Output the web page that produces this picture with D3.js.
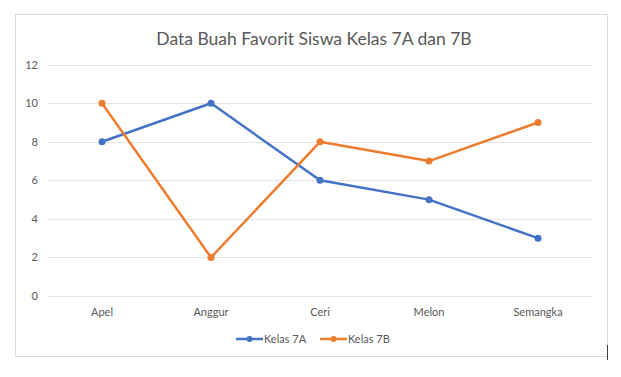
<!DOCTYPE html>
<html>
<head>
<meta charset="utf-8">
<script src="https://cdn.jsdelivr.net/npm/d3@7"></script>
<style>
  body { margin: 0; background: #fff; }
  text { font-family: Lato, "Open Sans", sans-serif; fill: #595959; }
</style>
</head>
<body>
<div id="chart"></div>
<script>
const categories = ["Apel", "Anggur", "Ceri", "Melon", "Semangka"];
const kelas7A = [8, 10, 6, 5, 3];
const kelas7B = [10, 2, 8, 7, 9];
const yTicks = [0, 2, 4, 6, 8, 10, 12];
const seriesNames = ["Kelas 7A", "Kelas 7B"];
const colors = ["#4472C4", "#ED7D31"];

const width = 621, height = 377;

const svg = d3.select("#chart").append("svg")
    .attr("width", width)
    .attr("height", height);

// chart frame
svg.append("rect")
    .attr("x", 15.5).attr("y", 14.5)
    .attr("width", 592).attr("height", 342)
    .attr("fill", "#fff")
    .attr("stroke", "#d9d9d9");

svg.append("line")
    .attr("x1", 607.5).attr("x2", 607.5)
    .attr("y1", 345).attr("y2", 360)
    .attr("stroke", "#404040");

svg.append("text")
    .attr("x", 314).attr("y", 45)
    .attr("text-anchor", "middle")
    .style("font-size", "17.5px")
    .text("Data Buah Favorit Siswa Kelas 7A dan 7B");

const x = d3.scaleBand()
    .domain(categories)
    .range([47.5, 592.5]);

const y = d3.scaleLinear()
    .domain([0, 12])
    .range([296, 64.7]);

// gridlines
svg.append("g")
    .selectAll("line")
    .data(yTicks)
    .join("line")
    .attr("x1", 47.5).attr("x2", 592.5)
    .attr("y1", d => Math.round(y(d)) + 0.5)
    .attr("y2", d => Math.round(y(d)) + 0.5)
    .attr("stroke", "#e6e6e6");

const yAxis = svg.append("g")
    .attr("transform", "translate(38,0)")
    .call(d3.axisLeft(y).tickValues(yTicks).tickSize(0).tickPadding(0));
yAxis.select(".domain").remove();
yAxis.selectAll("text")
    .style("font-size", "11px")
    .style("font-family", "Lato, sans-serif")
    .attr("fill", "#595959");

const xAxis = svg.append("g")
    .attr("transform", "translate(0,304)")
    .call(d3.axisBottom(x).tickSize(0).tickPadding(4));
xAxis.select(".domain").remove();
xAxis.selectAll("text")
    .style("font-size", "11px")
    .style("font-family", "Lato, sans-serif")
    .attr("fill", "#595959");

const line = d3.line()
    .x((d, i) => x(categories[i]) + x.bandwidth() / 2)
    .y(d => y(d));

[kelas7A, kelas7B].forEach((vals, s) => {
    svg.append("path")
        .datum(vals)
        .attr("fill", "none")
        .attr("stroke", colors[s])
        .attr("stroke-width", 2.5)
        .attr("stroke-linejoin", "round")
        .attr("d", line);
    svg.append("g")
        .selectAll("circle")
        .data(vals)
        .join("circle")
        .attr("cx", (d, i) => x(categories[i]) + x.bandwidth() / 2)
        .attr("cy", d => y(d))
        .attr("r", 3.5)
        .attr("fill", colors[s]);
});

// legend
const legendX = [236, 320];
seriesNames.forEach((name, s) => {
    const g = svg.append("g").attr("transform", `translate(${legendX[s]},339)`);
    g.append("line")
        .attr("x1", 0).attr("x2", 27)
        .attr("stroke", colors[s])
        .attr("stroke-width", 2.5);
    g.append("circle")
        .attr("cx", 13.5).attr("r", 3)
        .attr("fill", colors[s]);
    g.append("text")
        .attr("x", 28).attr("y", 4)
        .style("font-size", "11px")
        .text(name);
});
</script>
</body>
</html>
